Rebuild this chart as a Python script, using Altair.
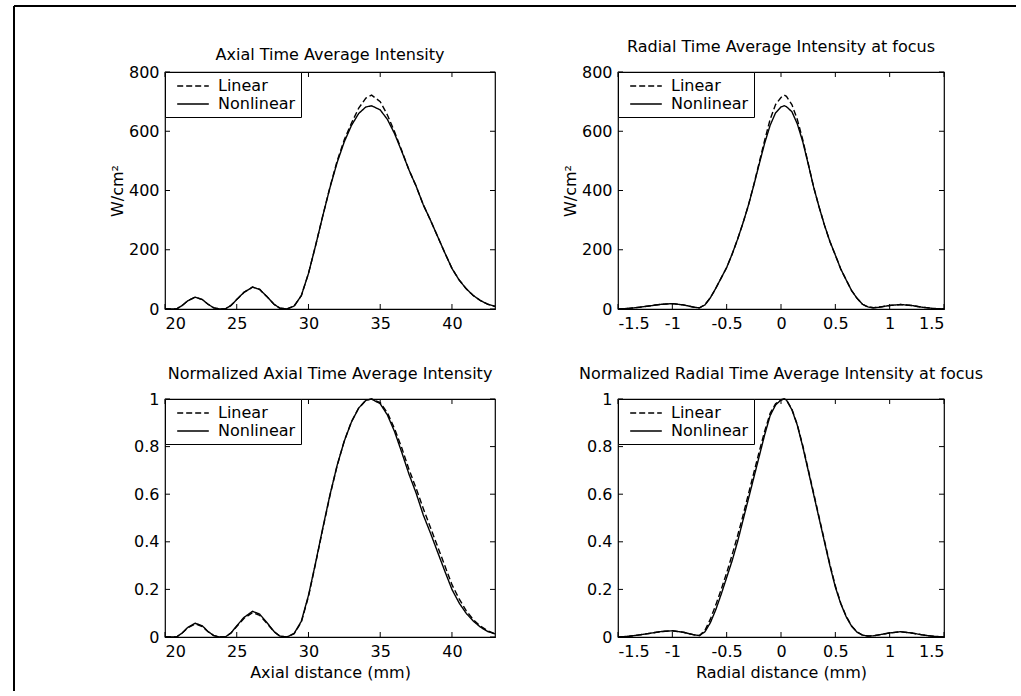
import altair as alt
import pandas as pd

# ---------------- data ----------------
SERIES = ["Linear", "Nonlinear"]

# Axial distance (mm)
axial_x = [20.0, 20.8, 21.2, 21.6, 22.1, 22.6, 23.0, 23.4, 23.8, 24.2, 24.6, 25.0,
           25.5, 26.1, 26.6, 27.1, 27.6, 28.0, 28.5, 29.0, 29.5, 30.0, 30.5, 31.0,
           31.5, 32.0, 32.5, 33.0, 33.5, 34.0, 34.4, 35.0, 35.5, 36.0, 36.5, 37.0,
           37.5, 38.0, 38.5, 39.0, 39.5, 40.0, 40.5, 41.0, 41.5, 42.0, 42.5, 43.0]
axial_lin = [0, 0, 12, 28, 40, 32, 16, 4, 0, 0, 12, 32,
             56, 74, 66, 42, 16, 3, 0, 10, 45, 120, 215, 315,
             412, 500, 572, 628, 678, 712, 722, 700, 655, 598, 535, 470,
             415, 352, 300, 245, 190, 137, 98, 68, 45, 28, 16, 9]
axial_non = [0, 0, 12, 28, 40, 32, 16, 4, 0, 0, 12, 32,
             56, 74, 66, 42, 16, 3, 0, 10, 45, 120, 215, 315,
             410, 495, 565, 620, 660, 682, 686, 672, 640, 592, 532, 470,
             415, 352, 300, 245, 190, 137, 98, 68, 45, 28, 16, 9]
axial_lin_n = [0, 0, 0.017, 0.039, 0.055, 0.044, 0.022, 0.006, 0, 0, 0.017, 0.044,
               0.078, 0.102, 0.091, 0.058, 0.022, 0.004, 0, 0.014, 0.062, 0.17, 0.31, 0.455,
               0.595, 0.72, 0.825, 0.905, 0.962, 0.995, 1.0, 0.985, 0.942, 0.875, 0.795, 0.705,
               0.625, 0.54, 0.46, 0.38, 0.30, 0.22, 0.16, 0.11, 0.072, 0.045, 0.026, 0.014]
axial_non_n = [0, 0, 0.017, 0.041, 0.058, 0.047, 0.023, 0.006, 0, 0, 0.017, 0.047,
               0.082, 0.108, 0.096, 0.061, 0.023, 0.004, 0, 0.015, 0.066, 0.175, 0.313, 0.459,
               0.598, 0.722, 0.824, 0.904, 0.962, 0.994, 1.0, 0.98, 0.933, 0.863, 0.776, 0.685,
               0.605, 0.513, 0.437, 0.357, 0.277, 0.2, 0.143, 0.099, 0.066, 0.041, 0.023, 0.013]

# Radial distance (mm)
radial_x = [-1.5, -1.4, -1.3, -1.2, -1.1, -1.0, -0.9, -0.8, -0.75, -0.7, -0.65, -0.6,
            -0.55, -0.5, -0.45, -0.4, -0.35, -0.3, -0.25, -0.2, -0.15, -0.1, -0.05, 0.0,
            0.03, 0.05, 0.1, 0.15, 0.2, 0.25, 0.3, 0.35, 0.4, 0.45, 0.5, 0.55,
            0.6, 0.65, 0.7, 0.75, 0.8, 0.85, 0.9, 1.0, 1.1, 1.2, 1.3, 1.4, 1.5]
radial_lin = [0, 2, 6, 11, 16, 18, 14, 6, 4, 14, 38, 70,
              105, 140, 185, 235, 290, 350, 420, 495, 570, 640, 690, 714,
              722, 718, 690, 640, 572, 492, 412, 345, 283, 228, 182, 135,
              98, 62, 36, 16, 7, 4, 6, 12, 15, 12, 6, 2, 0]
radial_non = [0, 2, 6, 11, 16, 18, 14, 6, 4, 14, 38, 70,
              105, 140, 185, 235, 290, 350, 418, 490, 560, 620, 662, 682,
              686, 683, 666, 625, 565, 490, 412, 345, 283, 228, 182, 135,
              98, 62, 36, 16, 7, 4, 6, 12, 15, 12, 6, 2, 0]
radial_lin_n = [0, 0.003, 0.009, 0.016, 0.023, 0.026, 0.02, 0.009, 0.006, 0.028, 0.075, 0.135,
                0.2, 0.27, 0.345, 0.425, 0.51, 0.6, 0.69, 0.78, 0.865, 0.94, 0.98, 0.997,
                1.0, 0.996, 0.958, 0.892, 0.805, 0.705, 0.605, 0.505, 0.405, 0.305, 0.215, 0.142,
                0.087, 0.046, 0.021, 0.008, 0.004, 0.005, 0.009, 0.017, 0.022, 0.017, 0.009, 0.003, 0]
radial_non_n = [0, 0.003, 0.009, 0.016, 0.023, 0.026, 0.02, 0.009, 0.006, 0.022, 0.06, 0.115,
                0.18, 0.25, 0.32, 0.40, 0.49, 0.58, 0.67, 0.76, 0.85, 0.93, 0.975, 0.996,
                1.0, 0.996, 0.955, 0.89, 0.80, 0.70, 0.60, 0.50, 0.40, 0.30, 0.21, 0.14,
                0.085, 0.045, 0.02, 0.008, 0.004, 0.005, 0.009, 0.017, 0.022, 0.017, 0.009, 0.003, 0]

axial_ticks = [20, 25, 30, 35, 40]
radial_ticks = [-1.5, -1, -0.5, 0, 0.5, 1, 1.5]
abs_ticks = [0, 200, 400, 600, 800]
norm_ticks = [0, 0.2, 0.4, 0.6, 0.8, 1]

FONT = "DejaVu Sans"
FS = 16
LABEL_EXPR = "replace(datum.label, '\u2212', '-')"


def long_df(x, lin, non):
    return pd.DataFrame({
        "x": list(x) * 2,
        "y": list(lin) + list(non),
        "series": [SERIES[0]] * len(x) + [SERIES[1]] * len(x),
    })


def panel(df, title, xdom, xticks, ydom, yticks, ytitle, xtitle, w, h, frame=False):
    X = alt.X("x:Q", scale=alt.Scale(domain=xdom, nice=False, zero=False),
              axis=alt.Axis(values=xticks, title=xtitle, format="~r", labelExpr=LABEL_EXPR))
    Y = alt.Y("y:Q", scale=alt.Scale(domain=ydom, nice=False, zero=False),
              axis=alt.Axis(values=yticks, title=ytitle, format="~r"))
    lines = alt.Chart(df).mark_line(color="black", strokeWidth=1.4).encode(
        x=X, y=Y,
        strokeDash=alt.StrokeDash(
            "series:N",
            scale=alt.Scale(domain=SERIES, range=[[6, 3], [1, 0]]),
            legend=alt.Legend(title=None, orient="none", legendX=0, legendY=0),
        ),
    )
    xt = pd.DataFrame({"x": xticks})
    yt = pd.DataFrame({"y": yticks})
    tk = dict(color="black", strokeWidth=1)
    t_left = alt.Chart(yt).mark_rule(**tk).encode(y=Y, x=alt.value(0), x2=alt.value(5))
    t_right = alt.Chart(yt).mark_rule(**tk).encode(y=Y, x=alt.value(w - 5), x2=alt.value(w))
    t_bot = alt.Chart(xt).mark_rule(**tk).encode(x=X, y=alt.value(h - 5), y2=alt.value(h))
    t_top = alt.Chart(xt).mark_rule(**tk).encode(x=X, y=alt.value(0), y2=alt.value(5))
    layers = [lines, t_left, t_right, t_bot, t_top]
    dy = 0
    if frame:
        one = pd.DataFrame({"k": [0]})
        fv = alt.Chart(one).mark_rule(color="black", strokeWidth=2).encode(
            x=alt.value(-151), y=alt.value(-66), y2=alt.value(619))
        fh = alt.Chart(one).mark_rule(color="black", strokeWidth=2).encode(
            x=alt.value(-151), x2=alt.value(851), y=alt.value(-66))
        layers += [fv, fh]
        dy = 67
    return alt.layer(*layers).properties(
        width=w, height=h,
        title=alt.TitleParams(title, font=FONT, fontSize=FS, fontWeight="normal",
                              anchor="middle", frame="group", offset=9, dy=dy,
                              color="black"),
    )


p1 = panel(long_df(axial_x, axial_lin, axial_non), "Axial Time Average Intensity",
           [20, 43], axial_ticks, [0, 800], abs_ticks, "W/cm²", None, 330, 237, frame=True)
p2 = panel(long_df(radial_x, radial_lin, radial_non), "Radial Time Average Intensity at focus",
           [-1.5, 1.5], radial_ticks, [0, 800], abs_ticks, "W/cm²", None, 326, 237)
p3 = panel(long_df(axial_x, axial_lin_n, axial_non_n), "Normalized Axial Time Average Intensity",
           [20, 43], axial_ticks, [0, 1], norm_ticks, None, "Axial distance (mm)", 330, 238)
p4 = panel(long_df(radial_x, radial_lin_n, radial_non_n),
           "Normalized Radial Time Average Intensity at focus",
           [-1.5, 1.5], radial_ticks, [0, 1], norm_ticks, None, "Radial distance (mm)", 326, 238)

chart = alt.concat(
    p1, p2, p3, p4, columns=2, spacing={"row": 90, "column": 123}, bounds="flush"
).resolve_scale(
    strokeDash="independent"
).resolve_legend(
    strokeDash="independent"
).properties(
    padding={"left": 12, "top": 4, "right": 0, "bottom": 0},
    background="white",
).configure_view(
    stroke="black", strokeWidth=1.2
).configure_axis(
    grid=False, ticks=False, domain=False,
    labelFont=FONT, labelFontSize=FS, labelColor="black", labelPadding=6,
    titleFont=FONT, titleFontSize=FS, titleColor="black", titleFontWeight="normal",
).configure_axisY(
    titlePadding=3
).configure_axisX(
    titlePadding=5
).configure_legend(
    fillColor="white", strokeColor="black", padding=5, cornerRadius=0,
    symbolType="M-2,0H2", symbolSize=250, symbolStrokeWidth=1.4, symbolOffset=14,
    symbolStrokeColor="black", labelFont=FONT, labelFontSize=FS,
    labelColor="black", labelOffset=16, rowPadding=1,
)

chart.save("out.html", embed_options={"renderer": "svg", "actions": False})
